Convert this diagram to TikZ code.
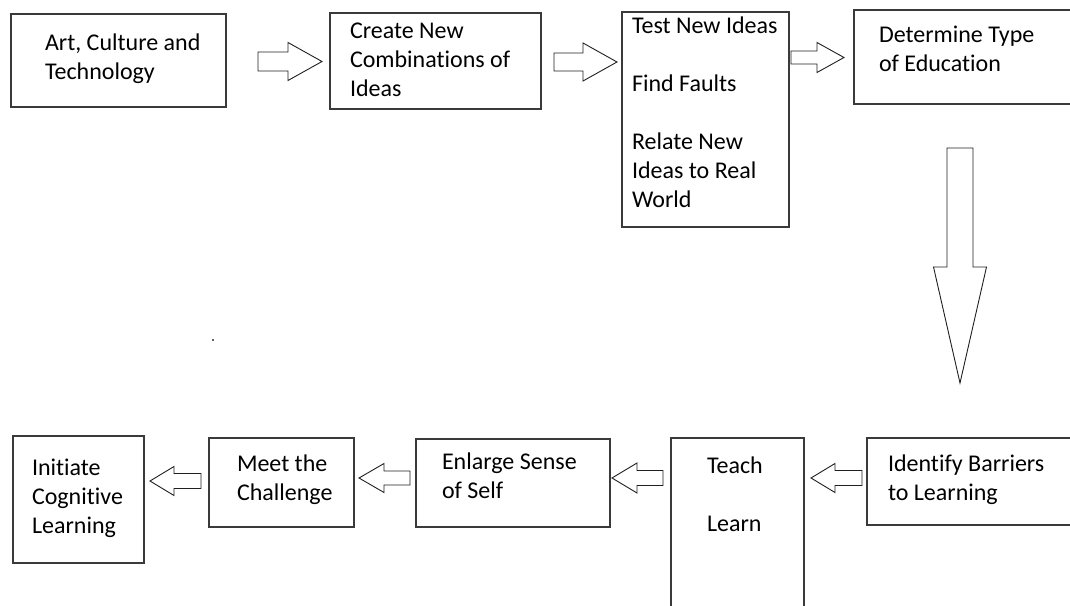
\documentclass[tikz,border=0pt]{standalone}
\usepackage{fontspec}
\setmainfont{Carlito}[Ligatures=NoCommon]
\begin{document}
\begin{tikzpicture}[x=1pt,y=1pt,
  box/.style={draw=boxline, line width=1.6pt, rectangle, inner sep=0pt, outer sep=0pt, anchor=north west},
  label/.style={anchor=north west, inner sep=0pt, outer sep=0pt, align=left, text=black,
    font=\fontsize{24}{29}\selectfont},
  blockarrow/.style={draw=arrowline, line width=0.9pt, fill=white, line join=miter}]
\definecolor{boxline}{HTML}{3A3A3A}
\definecolor{arrowline}{HTML}{202020}
% horizontal block arrow: tail x, tip x, head base x, centre y, shaft half, head half
\newcommand\hblock[6]{\draw[blockarrow] (#1,#4+#5) -- (#3,#4+#5) -- (#3,#4+#6) -- (#2,#4)
  -- (#3,#4-#6) -- (#3,#4-#5) -- (#1,#4-#5) -- cycle;}
% vertical block arrow: tail y, tip y, head base y, centre x, shaft half, head half
\newcommand\vblock[6]{\draw[blockarrow] (#4-#5,#1) -- (#4-#5,#3) -- (#4-#6,#3) -- (#4,#2)
  -- (#4+#6,#3) -- (#4+#5,#3) -- (#4+#5,#1) -- cycle;}
\useasboundingbox (0,0) rectangle (1070,-605);
\clip (0,0) rectangle (1070,-605);

% top row
\node[box, minimum width=215pt, minimum height=93pt] (art) at (11,-14) {};
\node[box, minimum width=211pt, minimum height=96pt] (create) at (330,-13) {};
\node[box, minimum width=167pt, minimum height=215pt] (test) at (622,-12) {};
\node[box, minimum width=226pt, minimum height=94pt] (determine) at (854,-10) {};

\node[label] (artT) at (45,-29.7) {\strut Art, Culture and\\Technology};
\node[label] (createT) at (350,-17.7) {\strut Create New\\Combinations of\\Ideas};
\node[label] (testT) at (632,-12.7) {\strut Test New Ideas\\[29pt]Find Faults\\[29pt]Relate New\\Ideas to Real\\World};
\node[label] (determineT) at (879,-21.7) {\strut Determine Type\\of Education};

% bottom row
\node[box, minimum width=213pt, minimum height=87pt] (identify) at (867,-438) {};
\node[box, minimum width=133pt, minimum height=182pt] (teach) at (671,-438) {};
\node[box, minimum width=194pt, minimum height=88pt] (enlarge) at (416,-439) {};
\node[box, minimum width=145pt, minimum height=89pt] (meet) at (209,-438) {};
\node[box, minimum width=131pt, minimum height=127pt] (initiate) at (13,-436) {};

\node[label] (identifyT) at (888,-450.7) {\strut Identify Barriers\\to Learning};
\node[label] (teachT) at (707,-452.7) {\strut Teach\\[29pt]Learn};
\node[label] (enlargeT) at (442,-448.7) {\strut Enlarge Sense\\of Self};
\node[label] (meetT) at (237,-450.7) {\strut Meet the\\Challenge};
\node[label] (initiateT) at (32,-454.7) {\strut Initiate\\Cognitive\\Learning};

% block arrows between the steps
\hblock{258}{322}{288}{-61.5}{9.5}{19}
\hblock{554}{617}{583}{-62}{9}{19}
\hblock{791}{844}{817}{-57.5}{6.5}{15}
\vblock{-148}{-383}{-267}{960}{13}{26.5}
\hblock{862}{811}{835}{-478}{7.5}{14.5}
\hblock{663}{612}{637}{-478}{7.5}{15}
\hblock{410}{359}{384}{-478}{7}{14.5}
\hblock{201}{150}{174}{-481}{7.5}{14.5}

% stray dot
\fill[black!60] (211.5,-338.5) rectangle (214,-341);
\end{tikzpicture}
\end{document}
